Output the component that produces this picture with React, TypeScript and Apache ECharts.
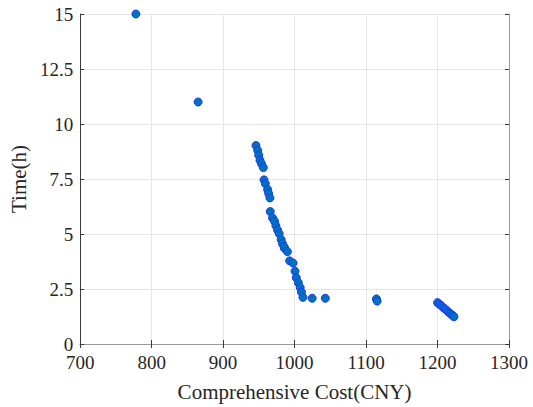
import React, { useEffect, useRef } from "react";
import * as echarts from "echarts";

const costs: number[] = [
  778, 865,
  946, 948.4, 949.8, 951.6, 953.6, 956.3, 957.2, 959.1, 962.3, 963.7,
  965.5, 966, 969.2, 972, 973.8, 976.1, 978.5, 981.2, 983, 985.8,
  985.4, 990, 993.1, 997.9, 1000.6, 1002.4, 1005.2, 1007.9, 1009.7, 1011.7,
  1024.6, 1043,
  1114.5, 1115.5,
  1200, 1203, 1206, 1209, 1212, 1215, 1218, 1221, 1223,
];
const times: number[] = [
  15, 11,
  9.02, 8.8, 8.58, 8.35, 8.2, 8.02, 7.46, 7.29, 7.02, 6.84,
  6.64, 6.02, 5.73, 5.58, 5.38, 5.19, 5.02, 4.75, 4.57, 4.35,
  4.42, 4.2, 3.78, 3.68, 3.31, 3.01, 2.79, 2.57, 2.35, 2.12,
  2.08, 2.08,
  2.05, 1.95,
  1.88, 1.8, 1.72, 1.63, 1.55, 1.46, 1.38, 1.3, 1.24,
];
const xTicks = { min: 700, max: 1300, interval: 100 };
const yTicks = { min: 0, max: 15, interval: 2.5 };

const FONT = "'Liberation Serif', 'Times New Roman', serif";

export default function App() {
  const ref = useRef<HTMLDivElement>(null);
  useEffect(() => {
    if (!ref.current) return;
    const chart = echarts.init(ref.current, null, { renderer: "svg" });
    const data = costs.map((c, i) => [c, times[i]]);
    const axisLine = { show: true, lineStyle: { color: "#3a3a3a", width: 1 } };
    const boxLine = { show: true, lineStyle: { color: "#9a9a9a", width: 1 } };
    const tick = { show: true, inside: true, length: 4, lineStyle: { color: "#3a3a3a" } };
    chart.setOption({
      animation: false,
      backgroundColor: "#ffffff",
      grid: { left: 75.5, right: 24, top: 14, bottom: 56, containLabel: false },
      xAxis: [
        {
          type: "value",
          ...xTicks,
          name: "Comprehensive Cost(CNY)",
          nameLocation: "middle",
          nameGap: 37,
          nameTextStyle: { fontFamily: FONT, fontSize: 21, color: "#262626" },
          axisLine,
          axisTick: tick,
          axisLabel: {
            fontFamily: FONT,
            fontSize: 19,
            color: "#262626",
            margin: 9,
            formatter: (v: number) => String(v),
          },
          splitLine: { show: true, lineStyle: { color: "#e6e6e6", width: 1 } },
        },
        {
          type: "value",
          ...xTicks,
          position: "top",
          axisLine: boxLine,
          axisTick: tick,
          axisLabel: { show: false },
          splitLine: { show: false },
        },
      ],
      yAxis: [
        {
          type: "value",
          ...yTicks,
          name: "Time(h)",
          nameLocation: "middle",
          nameGap: 51,
          nameRotate: 90,
          nameTextStyle: { fontFamily: FONT, fontSize: 21, color: "#262626" },
          axisLine,
          axisTick: tick,
          axisLabel: {
            fontFamily: FONT,
            fontSize: 19,
            color: "#262626",
            margin: 7,
            formatter: (v: number) => String(v),
          },
          splitLine: { show: true, lineStyle: { color: "#e6e6e6", width: 1 } },
        },
        {
          type: "value",
          ...yTicks,
          position: "right",
          axisLine: boxLine,
          axisTick: tick,
          axisLabel: { show: false },
          splitLine: { show: false },
        },
      ],
      series: [
        {
          type: "scatter",
          xAxisIndex: 0,
          yAxisIndex: 0,
          data,
          symbol: "circle",
          symbolSize: 8,
          itemStyle: { color: "#0072BD", borderColor: "#1a3cf0", borderWidth: 1, opacity: 1 },
          clip: false,
        },
      ],
    });
    return () => chart.dispose();
  }, []);
  return (
    <div
      ref={ref}
      style={{ position: "fixed", left: 0, top: 0, width: 533, height: 407, background: "#fff" }}
    />
  );
}
